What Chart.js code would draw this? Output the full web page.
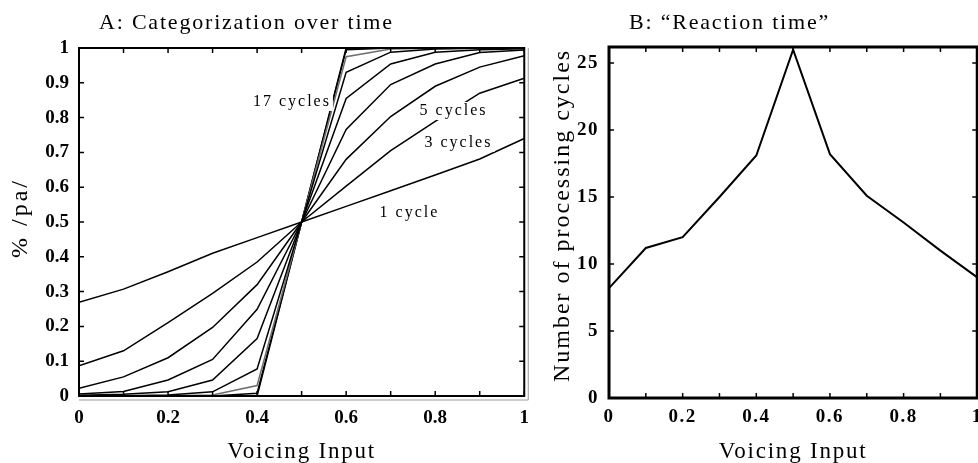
<!DOCTYPE html>
<html><head><meta charset="utf-8">
<script src="https://cdn.jsdelivr.net/npm/chart.js@4.4.1/dist/chart.umd.min.js"></script>
<style>
html,body{margin:0;padding:0;background:#fff;overflow:hidden;width:978px;height:463px;position:relative;}
#a{position:absolute;left:0;top:0;}
#b{position:absolute;left:540px;top:0;}
</style></head><body>
<canvas id="a" width="540" height="463"></canvas>
<canvas id="b" width="450" height="463"></canvas>
<script>
// ---------- data ----------
const voicingInput = [0, 0.1, 0.2, 0.3, 0.4, 0.5, 0.6, 0.7, 0.8, 0.9, 1];
const cycles1  = [0.269, 0.307, 0.357, 0.410, 0.455, 0.5, 0.545, 0.590, 0.635, 0.681, 0.740];
const cycles3  = [0.087, 0.130, 0.211, 0.295, 0.385, 0.5, 0.603, 0.705, 0.789, 0.870, 0.913];
const cycles5  = [0.022, 0.055, 0.110, 0.197, 0.320, 0.5, 0.680, 0.803, 0.890, 0.945, 0.978];
const cycles7  = [0.006, 0.013, 0.046, 0.105, 0.249, 0.5, 0.766, 0.895, 0.954, 0.987, 0.994];
const cycles9  = [0.002, 0.005, 0.012, 0.046, 0.165, 0.5, 0.855, 0.954, 0.988, 0.995, 0.998];
const cycles11 = [0.000, 0.001, 0.003, 0.012, 0.078, 0.5, 0.930, 0.988, 0.997, 0.999, 1.000];
const cycles13 = [0.000, 0.000, 0.001, 0.003, 0.030, 0.5, 0.975, 0.997, 0.999, 1.000, 1.000];
const cycles15 = [0.000, 0.000, 0.000, 0.000, 0.008, 0.5, 0.995, 1.000, 1.000, 1.000, 1.000];
const cycles17 = [0.000, 0.000, 0.000, 0.000, 0.000, 0.5, 1.000, 1.000, 1.000, 1.000, 1.000];
const cycleNames = ['1 cycle','3 cycles','5 cycles','7 cycles','9 cycles','11 cycles','13 cycles','15 cycles','17 cycles'];
const cycleSeries = [cycles1, cycles3, cycles5, cycles7, cycles9, cycles11, cycles13, cycles15, cycles17];

const processingCycles = [8.2, 11.2, 12.0, 15.0, 18.1, 26.0, 18.2, 15.1, 13.1, 11.0, 9.0];

const voicingTicks = [0, 0.1, 0.2, 0.3, 0.4, 0.5, 0.6, 0.7, 0.8, 0.9, 1];
const voicingTickLabels = ['0', '', '0.2', '', '0.4', '', '0.6', '', '0.8', '', '1'];
const pctTicks = [0, 0.1, 0.2, 0.3, 0.4, 0.5, 0.6, 0.7, 0.8, 0.9, 1];
const pctTickLabels = ['0', '0.1', '0.2', '0.3', '0.4', '0.5', '0.6', '0.7', '0.8', '0.9', '1'];
const rtTicks = [0, 5, 10, 15, 20, 25];
const rtTickLabels = ['0', '5', '10', '15', '20', '25'];

// ---------- styling / layout (not data) ----------
const SERIF = '"Liberation Serif", "Times New Roman", serif';
const curveAnnotations = [
  { text: '17 cycles', x: 0.476, y: 0.845 },
  { text: '5 cycles',  x: 0.839, y: 0.819 },
  { text: '3 cycles',  x: 0.850, y: 0.727 },
  { text: '1 cycle',   x: 0.740, y: 0.526 }
];

function pts(xs, ys) { return xs.map((x, i) => ({ x: x, y: ys[i] })); }

function framePlugin(o) {
  return {
    id: 'frame',
    afterDatasetsDraw(chart) {
      const { ctx, chartArea: ca, scales: { x, y } } = chart;
      ctx.save();
      ctx.strokeStyle = '#000';
      ctx.lineWidth = 1.5;
      ctx.beginPath();
      x.ticks.forEach(t => {
        const px = x.getPixelForValue(t.value);
        ctx.moveTo(px, ca.top); ctx.lineTo(px, ca.top + o.tick);
        ctx.moveTo(px, ca.bottom); ctx.lineTo(px, ca.bottom - o.tick);
      });
      y.ticks.forEach(t => {
        const py = y.getPixelForValue(t.value);
        ctx.moveTo(ca.left, py); ctx.lineTo(ca.left + o.tick, py);
        ctx.moveTo(ca.right, py); ctx.lineTo(ca.right - o.tick, py);
      });
      ctx.stroke();
      if (o.shadow) {
        ctx.strokeStyle = '#9a9a9a';
        ctx.lineWidth = 1;
        ctx.beginPath();
        ctx.moveTo(ca.left, ca.bottom + 4); ctx.lineTo(ca.right + 4, ca.bottom + 4);
        ctx.lineTo(ca.right + 4, ca.top);
        ctx.stroke();
      }
      ctx.strokeStyle = '#000';
      ctx.lineWidth = o.border;
      ctx.strokeRect(ca.left, ca.top, ca.right - ca.left, ca.bottom - ca.top);
      ctx.restore();
    }
  };
}

function textPlugin(o) {
  return {
    id: 'texts',
    beforeDraw(chart) { chart.ctx.letterSpacing = o.tickSpacing; },
    afterDraw(chart) {
      const { ctx, chartArea: ca } = chart;
      ctx.save();
      ctx.fillStyle = '#000';
      ctx.letterSpacing = '1.8px';
      ctx.font = '22px ' + SERIF;
      ctx.textAlign = 'left';
      ctx.textBaseline = 'alphabetic';
      ctx.fillText(o.title, ca.left + 20, 29);
      ctx.letterSpacing = '1.8px';
      ctx.font = '23px ' + SERIF;
      ctx.textAlign = 'center';
      ctx.fillText(o.xTitle, (ca.left + ca.right) / 2, 458);
      ctx.translate(o.yTitleX, o.yTitleY);
      ctx.rotate(-Math.PI / 2);
      ctx.letterSpacing = o.yTitleSpacing;
      ctx.font = '24px ' + SERIF;
      ctx.textBaseline = 'middle';
      ctx.fillText(o.yTitle, 0, 0);
      ctx.restore();
    }
  };
}

const curveLabelPlugin = {
  id: 'curveLabels',
  afterDatasetsDraw(chart) {
    const { ctx, scales: { x, y } } = chart;
    ctx.save();
    ctx.font = '16px ' + SERIF;
    ctx.letterSpacing = '2px';
    ctx.textAlign = 'center';
    ctx.textBaseline = 'middle';
    curveAnnotations.forEach(a => {
      const px = x.getPixelForValue(a.x), py = y.getPixelForValue(a.y);
      const w = ctx.measureText(a.text).width;
      ctx.fillStyle = '#fff';
      ctx.fillRect(px - w / 2 - 3, py - 9, w + 6, 18);
      ctx.fillStyle = '#000';
      ctx.fillText(a.text, px + 1, py);
    });
    ctx.restore();
  }
};

const tickFont = { family: SERIF, size: 19, weight: 'bold' };

// ---------- Chart A ----------
new Chart(document.getElementById('a'), {
  type: 'line',
  data: {
    datasets: cycleSeries.map((s, i) => ({
      label: cycleNames[i],
      data: pts(voicingInput, s),
      borderColor: i === 6 ? '#6e6e6e' : '#000',
      borderWidth: 1.5,
      pointRadius: 0,
      tension: 0,
      fill: false
    }))
  },
  options: {
    responsive: false, animation: false, devicePixelRatio: 1,
    layout: { padding: { top: 48, right: 14, left: 0, bottom: 0 } },
    plugins: { legend: { display: false }, tooltip: { enabled: false } },
    scales: {
      x: {
        type: 'linear', min: 0, max: 1,
        afterFit: s => { s.height = 67; },
        afterBuildTicks: s => { s.ticks = voicingTicks.map(v => ({ value: v })); },
        grid: { display: false, drawTicks: false }, border: { display: false },
        ticks: { autoSkip: false, maxRotation: 0, padding: 11, color: '#000', font: tickFont,
          callback: (v, i) => voicingTickLabels[i] }
      },
      y: {
        type: 'linear', min: 0, max: 1,
        afterFit: s => { s.width = 79; },
        afterBuildTicks: s => { s.ticks = pctTicks.map(v => ({ value: v })); },
        grid: { display: false, drawTicks: false }, border: { display: false },
        ticks: { autoSkip: false, padding: 10, color: '#000', font: tickFont,
          callback: (v, i) => pctTickLabels[i] }
      }
    }
  },
  plugins: [curveLabelPlugin, framePlugin({ tick: 5, border: 2, shadow: true }),
    textPlugin({ title: 'A: Categorization over time', xTitle: 'Voicing Input', yTitle: '% /pa/',
      yTitleX: 21, yTitleY: 218, yTitleSpacing: '3px', tickSpacing: '0px' })]
});

// ---------- Chart B ----------
new Chart(document.getElementById('b'), {
  type: 'line',
  data: {
    datasets: [{
      label: 'Number of processing cycles',
      data: pts(voicingInput, processingCycles),
      borderColor: '#000', borderWidth: 2, pointRadius: 0, tension: 0, fill: false
    }]
  },
  options: {
    responsive: false, animation: false, devicePixelRatio: 1,
    layout: { padding: { top: 47, right: 8, left: 0, bottom: 0 } },
    plugins: { legend: { display: false }, tooltip: { enabled: false } },
    scales: {
      x: {
        type: 'linear', min: 0, max: 1,
        afterFit: s => { s.height = 65; },
        afterBuildTicks: s => { s.ticks = voicingTicks.map(v => ({ value: v })); },
        grid: { display: false, drawTicks: false }, border: { display: false },
        ticks: { autoSkip: false, maxRotation: 0, padding: 8, color: '#000', font: tickFont,
          callback: (v, i) => voicingTickLabels[i] }
      },
      y: {
        type: 'linear', min: 0, max: 26.2,
        afterFit: s => { s.width = 69; },
        afterBuildTicks: s => { s.ticks = rtTicks.map(v => ({ value: v })); },
        grid: { display: false, drawTicks: false }, border: { display: false },
        ticks: { autoSkip: false, padding: 10, color: '#000', font: tickFont,
          callback: (v, i) => rtTickLabels[i] }
      }
    }
  },
  plugins: [framePlugin({ tick: 5, border: 3, shadow: false }),
    textPlugin({ title: 'B: \u201CReaction time\u201D', xTitle: 'Voicing Input', yTitle: 'Number of processing cycles',
      yTitleX: 22.5, yTitleY: 215.5, yTitleSpacing: '2px', tickSpacing: '1.5px' })]
});
</script>
</body></html>
